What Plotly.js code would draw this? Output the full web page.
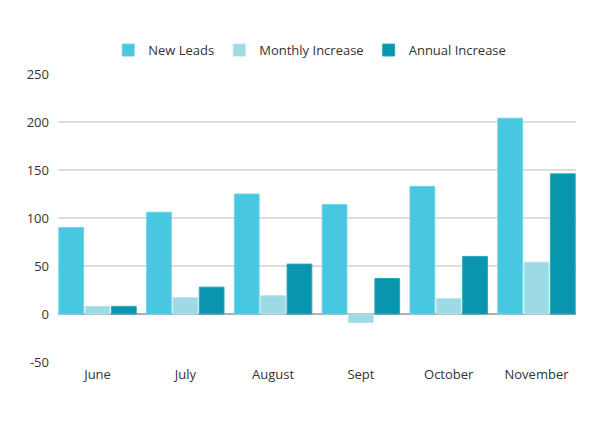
<!DOCTYPE html>
<html>
<head>
<meta charset="utf-8">
<script src="https://cdn.plot.ly/plotly-3.0.1.min.js"></script>
<style>html,body{margin:0;padding:0;background:#fff;}#chart{width:600px;height:424px;}</style>
</head>
<body>
<div id="chart"></div>
<script>
const months = ["June", "July", "August", "Sept", "October", "November"];
const newLeads = [90, 106, 125, 114, 133, 204];
const monthlyIncrease = [8, 17, 19, -9, 16, 54];
const annualIncrease = [8, 28, 52, 37, 60, 146];
const yTicks = [-50, 0, 50, 100, 150, 200, 250];

const seriesNames = ["New Leads", "Monthly Increase", "Annual Increase"];
const seriesColors = ["#47C7E0", "#9DDAE4", "#0A95AF"];
const seriesLines = ["#6FD4E8", "#B5E4EC", "#2FA6BD"];
const seriesData = [newLeads, monthlyIncrease, annualIncrease];

const traces = seriesData.map((vals, i) => ({
  type: "bar",
  name: seriesNames[i],
  x: months,
  y: vals,
  marker: {color: seriesColors[i], line: {color: seriesLines[i], width: 1}},
  hoverinfo: "x+y+name"
}));

const layout = {
  width: 600,
  height: 424,
  margin: {l: 58, r: 24, t: 74, b: 62},
  paper_bgcolor: "#ffffff",
  plot_bgcolor: "#ffffff",
  font: {family: "Open Sans, sans-serif", size: 13, color: "#333333"},
  barmode: "group",
  bargap: 0.1,
  bargroupgap: 0.06,
  showlegend: true,
  legend: {orientation: "h", x: 0.486, xanchor: "center", y: 1.083, yanchor: "middle",
           font: {size: 13, color: "#333333"}, traceorder: "normal"},
  xaxis: {range: [-0.45, 5.45], showgrid: false, zeroline: false, showline: false,
          ticks: "", ticklabelstandoff: 3, tickfont: {size: 13, color: "#333333"}, fixedrange: true},
  yaxis: {range: [-50, 250], tickvals: yTicks, ticktext: yTicks.map(String),
          showgrid: true, gridcolor: "#dddddd", gridwidth: 1.5,
          zeroline: true, zerolinecolor: "#b0b0b0", zerolinewidth: 1.5,
          showline: false, ticks: "", ticklabelstandoff: 8,
          tickfont: {size: 13, color: "#333333"}, fixedrange: true}
};

Plotly.newPlot("chart", traces, layout, {displayModeBar: false, staticPlot: true});
</script>
</body>
</html>
